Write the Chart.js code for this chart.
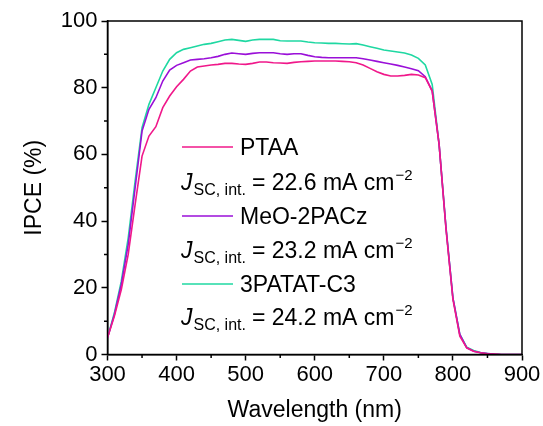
<!DOCTYPE html>
<html>
<head>
<meta charset="utf-8">
<script src="https://cdn.jsdelivr.net/npm/chart.js@4.4.0/dist/chart.umd.min.js"></script>
<style>
html, body { margin: 0; padding: 0; background: #fff; }
</style>
</head>
<body>
<canvas id="ipce" width="543" height="426"></canvas>
<script>
// wavelength grid (nm)
let wavelength = [];
for (let w = 300; w <= 900; w += 10) wavelength.push(w);

// IPCE (%), one value per wavelength
let ptaa = [5, 11.5, 19.5, 30, 45, 59.5, 65.5, 68.3, 74, 77.5,
  80.3, 82.5, 85, 86.2, 86.5, 86.8, 87, 87.3, 87.3, 87.1,
  87, 87.3, 87.7, 87.7, 87.5, 87.4, 87.3, 87.6, 87.8, 87.9,
  88, 88, 88, 88, 87.9, 87.8, 87.5, 86.8, 85.8, 84.8,
  84, 83.5, 83.5, 83.7, 84, 83.8, 83, 79, 63, 37.5,
  16.5, 5.5, 2, 1, 0.5, 0.2, 0.1, 0, 0, 0, 0];
let meo2pacz = [5, 12, 21, 33, 50, 67, 73.5, 77, 82, 85.3,
  86.7, 87.5, 88.3, 88.5, 88.7, 89, 89.4, 90, 90.4, 90.2,
  90, 90.3, 90.5, 90.5, 90.5, 90.2, 90, 90.2, 90.2, 89.7,
  89.3, 89.1, 89, 89, 89, 89, 89, 88.7, 88.3, 87.9,
  87.5, 87.1, 86.7, 86.2, 85.7, 85.1, 83.3, 79, 63, 38,
  17, 6, 2, 1, 0.5, 0.3, 0.1, 0, 0, 0, 0];
let patat = [5, 12.5, 22, 35, 52, 68, 75, 80, 85, 88.5,
  90.5, 91.5, 92, 92.5, 93, 93.3, 93.8, 94.3, 94.5, 94.2,
  93.9, 94.3, 94.5, 94.5, 94.5, 94.1, 94, 94, 94, 93.7,
  93.5, 93.4, 93.3, 93.3, 93.2, 93.1, 93.2, 92.8, 92.3, 91.8,
  91.3, 91, 90.7, 90.4, 89.8, 88.8, 86.8, 81, 63, 38,
  17, 6, 2.2, 1.2, 0.6, 0.3, 0.1, 0, 0, 0, 0];

let seriesNames = ['PTAA', 'MeO-2PACz', '3PATAT-C3'];
let seriesColors = ['#f0188a', '#9a0fd8', '#1fd8a2'];
let jscValues = ['22.6', '23.2', '24.2'];

let xTicks = [300, 400, 500, 600, 700, 800, 900];
let yTicks = [0, 20, 40, 60, 80, 100];

const FONT = "'Liberation Sans', Arial, sans-serif";

function pts(arr) {
  return wavelength.map(function (w, i) { return { x: w, y: arr[i] }; });
}

// box around plot + minor ticks
const framePlugin = {
  id: 'frame',
  afterDraw(chart) {
    const ctx = chart.ctx;
    const a = chart.chartArea;
    const xs = chart.scales.x, ys = chart.scales.y;
    ctx.save();
    ctx.strokeStyle = '#000';
    ctx.lineWidth = 1.5;
    ctx.strokeRect(a.left, a.top, a.right - a.left, a.bottom - a.top);
    ctx.beginPath();
    for (let w = 350; w < 900; w += 100) {
      let px = xs.getPixelForValue(w);
      ctx.moveTo(px, a.bottom);
      ctx.lineTo(px, a.bottom + 3.5);
    }
    for (let v = 10; v < 100; v += 20) {
      let py = ys.getPixelForValue(v);
      ctx.moveTo(a.left, py);
      ctx.lineTo(a.left - 3.5, py);
    }
    ctx.stroke();
    ctx.restore();
  }
};

// legend with J_SC subscripts
const legendPlugin = {
  id: 'jscLegend',
  afterDraw(chart) {
    const ctx = chart.ctx;
    const rows = [[155, 190], [224, 258], [292, 325]];
    ctx.save();
    ctx.textBaseline = 'alphabetic';
    ctx.fillStyle = '#000';
    for (let i = 0; i < 3; i++) {
      let nameY = rows[i][0], jY = rows[i][1];
      ctx.strokeStyle = seriesColors[i];
      ctx.lineWidth = 1.5;
      ctx.beginPath();
      ctx.moveTo(182, nameY - 8);
      ctx.lineTo(233, nameY - 8);
      ctx.stroke();
      ctx.font = '23px ' + FONT;
      ctx.fillText(seriesNames[i], 240, nameY);

      let x = 181;
      ctx.font = 'italic 23px ' + FONT;
      ctx.fillText('J', x, jY);
      x += ctx.measureText('J').width + 1;
      ctx.font = '16px ' + FONT;
      ctx.fillText('SC, int.', x, jY + 5);
      x += ctx.measureText('SC, int.').width + 6;
      ctx.font = '23px ' + FONT;
      let main = '= ' + jscValues[i] + ' mA cm';
      ctx.fillText(main, x, jY);
      x += ctx.measureText(main).width + 1;
      ctx.font = '15px ' + FONT;
      ctx.fillText('\u22122', x, jY - 10);
    }
    ctx.restore();
  }
};

var ctx = document.getElementById('ipce').getContext('2d');
var chart = new Chart(ctx, {
  type: 'line',
  data: {
    datasets: [ptaa, meo2pacz, patat].map(function (arr, i) {
      return {
        label: seriesNames[i],
        data: pts(arr),
        borderColor: seriesColors[i],
        backgroundColor: 'transparent',
        borderWidth: 1.6,
        pointRadius: 0,
        tension: 0
      };
    })
  },
  options: {
    responsive: false,
    animation: false,
    devicePixelRatio: 1,
    layout: { padding: { top: 21, right: 21, left: 0, bottom: 0 } },
    plugins: {
      legend: { display: false },
      tooltip: { enabled: false }
    },
    scales: {
      x: {
        type: 'linear',
        min: 300,
        max: 900,
        afterBuildTicks: function (s) { s.ticks = xTicks.map(function (v) { return { value: v }; }); },
        afterFit: function (s) { s.height = 71.5; },
        grid: { drawOnChartArea: false, tickLength: 6, tickWidth: 1.5, tickColor: '#000' },
        border: { color: '#000', width: 1.5 },
        ticks: { color: '#000', font: { family: FONT, size: 22 }, padding: 1, maxRotation: 0 },
        title: { display: true, text: 'Wavelength (nm)', color: '#000',
          font: { family: FONT, size: 23 }, padding: { top: 0, bottom: 2 } }
      },
      y: {
        min: 0,
        max: 100,
        afterBuildTicks: function (s) { s.ticks = yTicks.map(function (v) { return { value: v }; }); },
        afterFit: function (s) { s.width = 107.5; },
        grid: { drawOnChartArea: false, tickLength: 6, tickWidth: 1.5, tickColor: '#000' },
        border: { color: '#000', width: 1.5 },
        ticks: { color: '#000', font: { family: FONT, size: 22 }, padding: 4 },
        title: { display: true, text: 'IPCE (%)', color: '#000',
          font: { family: FONT, size: 23 }, padding: { top: 21, bottom: 0 } }
      }
    }
  },
  plugins: [framePlugin, legendPlugin]
});
</script>
</body>
</html>
